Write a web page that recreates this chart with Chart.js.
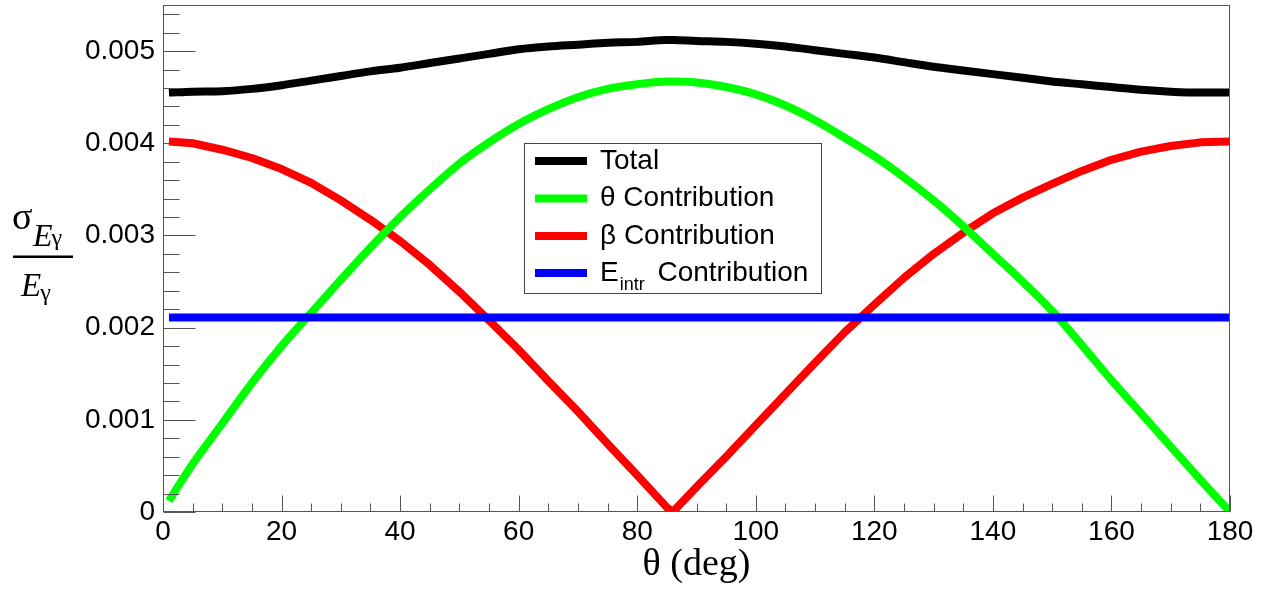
<!DOCTYPE html>
<html><head><meta charset="utf-8">
<script src="https://cdn.jsdelivr.net/npm/chart.js@4.4.1/dist/chart.umd.min.js"></script>
<style>html,body{margin:0;padding:0;background:#fff}#wrap{width:1266px;height:592px;position:relative}</style>
</head><body><div id="wrap"><canvas id="c" width="1266" height="592"></canvas></div>
<script>
// ---- data ----
const theta = [1,5,10,15,20,25,30,35,40,45,50,55,60,65,70,75,80,85,86,90,95,100,105,110,115,120,125,130,135,140,145,150,155,160,165,170,175,180];
const totalVals = [0.00455,0.00456,0.004565,0.00459,0.00463,0.00468,0.00473,0.00478,0.00482,0.00487,0.00492,0.00497,0.00502,0.00505,0.00507,0.00509,0.0051,0.00512,0.00512,0.00511,0.0051,0.00508,0.00505,0.00501,0.00497,0.00493,0.00488,0.00483,0.00479,0.00475,0.00471,0.00467,0.00464,0.00461,0.00458,0.00456,0.00455,0.00455];
const thetaVals = [0.00012,0.00052,0.00096,0.0014,0.0018,0.00216,0.00252,0.00287,0.0032,0.0035,0.00378,0.00401,0.00421,0.00437,0.0045,0.00459,0.00464,0.00467,0.00467,0.00466,0.00461,0.00453,0.00441,0.00425,0.00406,0.00386,0.00363,0.00338,0.0031,0.0028,0.0025,0.00218,0.00181,0.00143,0.00107,0.00071,0.00035,0.0];
const betaVals = [0.00402,0.004,0.00393,0.00384,0.00372,0.00357,0.00338,0.00317,0.00294,0.00268,0.00239,0.00208,0.00176,0.00142,0.00109,0.00074,0.0004,0.00005,0.0,0.00027,0.0006,0.00094,0.00128,0.00162,0.00195,0.00225,0.00254,0.0028,0.00303,0.00324,0.00341,0.00356,0.0037,0.00382,0.00391,0.00397,0.00401,0.00402];
const eintrVals = [0.00211,0.00211,0.00211,0.00211,0.00211,0.00211,0.00211,0.00211,0.00211,0.00211,0.00211,0.00211,0.00211,0.00211,0.00211,0.00211,0.00211,0.00211,0.00211,0.00211,0.00211,0.00211,0.00211,0.00211,0.00211,0.00211,0.00211,0.00211,0.00211,0.00211,0.00211,0.00211,0.00211,0.00211,0.00211,0.00211,0.00211,0.00211];
const seriesNames = ['Total','θ Contribution','β Contribution','E_intr Contribution'];
const seriesColors = ['#000000','#00ff00','#ff0000','#0000ff'];
const yTicks = [0,0.001,0.002,0.003,0.004,0.005];
const yTickLabels = ['0','0.001','0.002','0.003','0.004','0.005'];
const xTicks = [0,20,40,60,80,100,120,140,160,180];
const xTickLabels = ['0','20','40','60','80','100','120','140','160','180'];
const xTitle = 'θ (deg)';

const SANS = '"Liberation Sans", Arial, sans-serif';
const SERIF = '"Liberation Serif", "Times New Roman", serif';
const pts = vals => theta.map((t,i)=>({x:t,y:vals[i]}));

const rootFrame = {
  id:'rootFrame',
  afterDraw(chart){
    const c = chart.ctx, a = chart.chartArea, xs = chart.scales.x, ys = chart.scales.y;
    c.save();
    c.strokeStyle = '#555'; c.lineWidth = 1;
    const L = Math.round(a.left)+0.5, R = Math.round(a.right)-0.5, T = Math.round(a.top)+0.5, B = Math.round(a.bottom)-0.5;
    c.strokeRect(L, T, R-L, B-T);
    c.beginPath();
    for (let k=0;k<=27;k++){
      const v = k*0.0002; const y = Math.round(ys.getPixelForValue(v))+0.5;
      const len = (k%5===0)?32:16;
      c.moveTo(L,y); c.lineTo(L+len,y);
    }
    for (let k=0;k<=36;k++){
      const x = Math.round(xs.getPixelForValue(k*5))+0.5;
      const len = (k%4===0)?16:8;
      c.moveTo(x,B); c.lineTo(x,B-len);
    }
    c.stroke();

    // legend box
    c.fillStyle='#fff'; c.fillRect(524.5,143.5,297,150);
    c.strokeStyle='#444'; c.lineWidth=1; c.strokeRect(524.5,143.5,297,150);
    const rows=[161,198.5,236,273];
    chart.data.datasets.forEach((ds,i)=>{
      const y = rows[i];
      c.strokeStyle = ds.borderColor; c.lineWidth = 8;
      c.beginPath(); c.moveTo(535,y); c.lineTo(587,y); c.stroke();
      c.fillStyle='#000'; c.textBaseline='middle'; c.textAlign='left';
      c.font = '28px '+SANS;
      const name = ds.label;
      if (name.indexOf('_')>=0){
        const main = name.split('_')[0];
        const rest = name.split('_')[1];
        const sp = rest.indexOf(' ');
        const sub = rest.slice(0,sp), tail = rest.slice(sp);
        let x = 600;
        c.fillText(main,x,y); x += c.measureText(main).width+1;
        c.font = '18px '+SANS; c.textBaseline='alphabetic';
        c.fillText(sub,x,y+17); x += c.measureText(sub).width+5;
        c.font = '28px '+SANS; c.textBaseline='middle';
        c.fillText(tail,x,y);
      } else {
        c.fillText(name,600,y);
      }
    });

    // x title
    c.fillStyle='#000'; c.textAlign='center'; c.textBaseline='alphabetic';
    c.font = '38px '+SERIF;
    c.fillText(xTitle,(a.left+a.right)/2,575);

    // y title: sigma_{E_gamma} / E_gamma
    c.textAlign='left';
    let x;
    c.font = '38px '+SERIF; c.fillText('σ',12,229);
    c.font = 'italic 32px '+SERIF; c.fillText('E',33,246); x = 33 + c.measureText('E').width - 1;
    c.font = '24px '+SERIF; c.fillText('γ',x,245);
    c.fillRect(13,255.5,60,2.5);
    c.font = 'italic 33px '+SERIF; c.fillText('E',21,296); x = 21 + c.measureText('E').width - 1;
    c.font = '24px '+SERIF; c.fillText('γ',x,300);
    c.restore();
  }
};

new Chart(document.getElementById('c').getContext('2d'), {
  type:'line',
  data:{datasets:[
    {label:seriesNames[0], data:pts(totalVals), borderColor:seriesColors[0], order:4, cubicInterpolationMode:'monotone'},
    {label:seriesNames[1], data:pts(thetaVals), borderColor:seriesColors[1], order:2, cubicInterpolationMode:'monotone'},
    {label:seriesNames[2], data:pts(betaVals), borderColor:seriesColors[2], order:3, tension:0},
    {label:seriesNames[3], data:pts(eintrVals), borderColor:seriesColors[3], order:1, tension:0}
  ]},
  options:{
    responsive:false, animation:false, devicePixelRatio:1,
    layout:{padding:{top:5,right:36,left:0,bottom:0}},
    elements:{point:{radius:0,hoverRadius:0}, line:{borderWidth:8, borderCapStyle:'butt', borderJoinStyle:'round'}},
    plugins:{legend:{display:false}, tooltip:{enabled:false}},
    events:[],
    scales:{
      x:{type:'linear', min:0, max:180,
        afterBuildTicks:s=>{s.ticks = xTicks.map(v=>({value:v}));},
        afterFit:s=>{s.height=80; s.paddingLeft=0; s.paddingRight=0;},
        grid:{display:false, drawTicks:false}, border:{display:false},
        ticks:{padding:3, color:'#000', font:{family:SANS,size:28}, maxRotation:0, autoSkip:false,
          callback:(v,i)=>xTickLabels[i]}},
      y:{type:'linear', min:0, max:0.0055,
        afterBuildTicks:s=>{s.ticks = yTicks.map(v=>({value:v}));},
        afterFit:s=>{s.width=163; s.paddingTop=0; s.paddingBottom=0;},
        grid:{display:false, drawTicks:false}, border:{display:false},
        ticks:{padding:8, color:'#000', font:{family:SANS,size:28}, autoSkip:false,
          callback:(v,i)=>yTickLabels[i]}}
    }
  },
  plugins:[rootFrame]
});
</script></body></html>
